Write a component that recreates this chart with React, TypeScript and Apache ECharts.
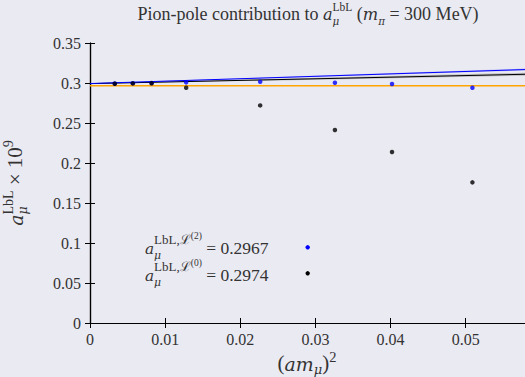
import React, { useEffect, useRef } from "react";
import * as echarts from "echarts";

// ---- data ----
const xMin = 0;
const xMax = 0.0579;
const xInterval = 0.01;
const yMin = 0;
const yMax = 0.35;
const yInterval = 0.05;

const latticeX = [0.0033, 0.0057, 0.0082, 0.0128, 0.02265, 0.0326, 0.0402, 0.0509];
const valuesL0 = [0.2991, 0.2995, 0.2996, 0.2941, 0.272, 0.2413, 0.2138, 0.1758];
const valuesL2 = [0.2994, 0.2998, 0.3, 0.3008, 0.3016, 0.3004, 0.2988, 0.2941];

const fitX = [0, 0.0579];
const fitL2 = [0.2993, 0.3168];
const fitL2Lower = [0.299, 0.3156];
const fitL2Upper = [0.2996, 0.318];
const fitL0 = [0.2992, 0.3109];
const fitL0Lower = [0.2988, 0.309];
const fitL0Upper = [0.2996, 0.3128];
const continuumLine = [0.2967, 0.2967];

const legendValues = ["0.2967", "0.2974"];

// ---- styling ----
const FAM = "Liberation Serif, DejaVu Serif, serif";
const FAM_IT = "DejaVu Serif, serif";
const IT_SCALE = 0.9;
const BG = "#eaeaf2";
const TXT = "#333333";
const BLUE = "#0000ff";
const BLACK = "#000000";
const ORANGE = "#ffa500";

type T = { t: string; s: number; it?: boolean; dy?: number };
type Item = T | { sup: T[]; sub: T[] };

function fontOf(t: T) {
  return t.it
    ? { size: t.s * IT_SCALE, family: FAM_IT, style: "italic" }
    : { size: t.s, family: FAM, style: "normal" };
}

let mctx: CanvasRenderingContext2D | null = null;
function measure(t: T): number {
  const f = fontOf(t);
  if (!mctx) mctx = document.createElement("canvas").getContext("2d");
  if (!mctx) return t.t.length * f.size * 0.5;
  mctx.font = `${f.style} ${f.size}px ${f.family}`;
  return mctx.measureText(t.t).width;
}

function layoutRun(toks: T[], x0: number, color: string, out: any[]): number {
  let x = x0;
  for (const t of toks) {
    const f = fontOf(t);
    out.push({
      type: "text",
      x,
      y: (t.dy || 0) - 0.34 * f.size,
      silent: true,
      style: {
        text: t.t,
        fontSize: f.size,
        fontFamily: f.family,
        fontStyle: f.style,
        fill: color,
        align: "left",
        verticalAlign: "middle",
      },
    });
    x += measure(t);
  }
  return x - x0;
}

function mathGroup(
  items: Item[],
  color: string,
  opts: { x: number; y: number; anchor: "left" | "center"; rotation?: number }
) {
  const children: any[] = [];
  let x = 0;
  for (const it of items) {
    if ("sup" in it) {
      const a = layoutRun(it.sup, x, color, children);
      const b = layoutRun(it.sub, x, color, children);
      x += Math.max(a, b);
    } else {
      x += layoutRun([it], x, color, children);
    }
  }
  const shift = opts.anchor === "center" ? -x / 2 : 0;
  children.forEach((c) => (c.x += shift));
  return {
    type: "group",
    x: opts.x,
    y: opts.y,
    rotation: opts.rotation || 0,
    children,
  };
}

function pairs(xs: number[], ys: number[]) {
  return xs.map((x, i) => [x, ys[i]]);
}

function bandSeries(name: string, lower: number[], upper: number[], color: string) {
  return {
    name,
    type: "custom",
    silent: true,
    z: 1,
    data: [[fitX[0], lower[0], upper[0], fitX[1], lower[1], upper[1]]],
    renderItem: (_params: any, api: any) => {
      const a = api.coord([api.value(0), api.value(1)]);
      const b = api.coord([api.value(3), api.value(4)]);
      const c = api.coord([api.value(3), api.value(5)]);
      const d = api.coord([api.value(0), api.value(2)]);
      return {
        type: "polygon",
        shape: { points: [a, b, c, d] },
        style: { fill: color },
      };
    },
  };
}

export default function App() {
  const ref = useRef<HTMLDivElement>(null);

  useEffect(() => {
    if (!ref.current) return;
    const chart = echarts.init(ref.current, null, { renderer: "svg" });

    const axisLabel = {
      color: TXT,
      fontSize: 16,
      fontFamily: FAM,
    };
    const axisLine = { show: true, lineStyle: { color: BLACK, width: 1.2 } };
    const axisTick = { show: true, inside: true, length: 5, lineStyle: { color: BLACK, width: 1 } };

    const title = mathGroup(
      [
        { t: "Pion-pole contribution to ", s: 18 },
        { t: "a", s: 18, it: true },
        { sup: [{ t: "LbL", s: 11.5, dy: -9.5 }], sub: [{ t: "μ", s: 11.5, it: true, dy: 4 }] },
        { t: " (", s: 18 },
        { t: "m", s: 18, it: true },
        { t: "π", s: 11.5, it: true, dy: 4 },
        { t: " = 300 MeV)", s: 18 },
      ],
      TXT,
      { x: 308, y: 20.5, anchor: "center" }
    );

    const yTitle = mathGroup(
      [
        { t: "a", s: 21, it: true },
        { sup: [{ t: "LbL", s: 14, dy: -9 }], sub: [{ t: "μ", s: 14, it: true, dy: 5 }] },
        { t: " × 10", s: 21 },
        { t: "9", s: 14, dy: -9 },
      ],
      TXT,
      { x: 22, y: 183, anchor: "center", rotation: Math.PI / 2 }
    );

    const xTitle = mathGroup(
      [
        { t: "(", s: 21 },
        { t: "a", s: 21, it: true },
        { t: "m", s: 21, it: true },
        { t: "μ", s: 14.5, it: true, dy: 4 },
        { t: ")", s: 21 },
        { t: "2", s: 14.5, dy: -8.5 },
      ],
      TXT,
      { x: 307, y: 370, anchor: "center" }
    );

    const legendRow = (sup: string, value: string, baseline: number) =>
      mathGroup(
        [
          { t: "a", s: 17, it: true },
          {
            sup: [
              { t: "LbL,", s: 13, dy: -10.5 },
              { t: "ℒ", s: 13, dy: -10.5 },
              { t: sup, s: 9.5, dy: -14.5 },
            ],
            sub: [{ t: "μ", s: 12, it: true, dy: 5.5 }],
          },
          { t: " = " + value, s: 17.5 },
        ],
        TXT,
        { x: 145, y: baseline, anchor: "left" }
      );

    const option: any = {
      animation: false,
      backgroundColor: BG,
      grid: { left: 90, top: 43, width: 437, height: 280, containLabel: false },
      xAxis: [
        {
          type: "value",
          min: xMin,
          max: xMax,
          interval: xInterval,
          position: "bottom",
          axisLine,
          axisTick,
          splitLine: { show: false },
          axisLabel: { ...axisLabel, margin: 8, showMaxLabel: false },
        },
        {
          type: "value",
          min: xMin,
          max: xMax,
          interval: xInterval,
          position: "top",
          axisLine,
          axisTick,
          splitLine: { show: false },
          axisLabel: { show: false },
        },
      ],
      yAxis: [
        {
          type: "value",
          min: yMin,
          max: yMax,
          interval: yInterval,
          position: "left",
          axisLine,
          axisTick,
          splitLine: { show: false },
          axisLabel: { ...axisLabel, margin: 9 },
        },
        {
          type: "value",
          min: yMin,
          max: yMax,
          interval: yInterval,
          position: "right",
          axisLine,
          axisTick,
          splitLine: { show: false },
          axisLabel: { show: false },
        },
      ],
      series: [
        bandSeries("bandL0", fitL0Lower, fitL0Upper, "rgba(90,90,90,0.3)"),
        bandSeries("bandL2", fitL2Lower, fitL2Upper, "rgba(60,60,255,0.25)"),
        {
          name: "continuum",
          type: "line",
          data: pairs(fitX, continuumLine),
          showSymbol: false,
          lineStyle: { color: ORANGE, width: 1.5 },
          z: 2,
        },
        {
          name: "fitL0",
          type: "line",
          data: pairs(fitX, fitL0),
          showSymbol: false,
          lineStyle: { color: BLACK, width: 1 },
          z: 3,
        },
        {
          name: "fitL2",
          type: "line",
          data: pairs(fitX, fitL2),
          showSymbol: false,
          lineStyle: { color: BLUE, width: 1 },
          z: 3,
        },
        {
          name: "L2",
          type: "scatter",
          data: pairs(latticeX, valuesL2),
          symbol: "circle",
          symbolSize: 4.5,
          itemStyle: { color: BLUE },
          z: 4,
        },
        {
          name: "L0",
          type: "scatter",
          data: pairs(latticeX, valuesL0),
          symbol: "circle",
          symbolSize: 4.5,
          itemStyle: { color: BLACK },
          z: 5,
        },
      ],
      graphic: [
        title,
        yTitle,
        xTitle,
        legendRow("(2)", legendValues[0], 254),
        legendRow("(0)", legendValues[1], 281),
        { type: "circle", shape: { cx: 307.7, cy: 247.3, r: 2.2 }, style: { fill: BLUE }, silent: true },
        { type: "circle", shape: { cx: 307.7, cy: 273.3, r: 2.2 }, style: { fill: BLACK }, silent: true },
      ],
    };

    chart.setOption(option);
    return () => chart.dispose();
  }, []);

  return (
    <div
      ref={ref}
      style={{ position: "fixed", left: 0, top: 0, width: 525, height: 377, background: BG }}
    />
  );
}
